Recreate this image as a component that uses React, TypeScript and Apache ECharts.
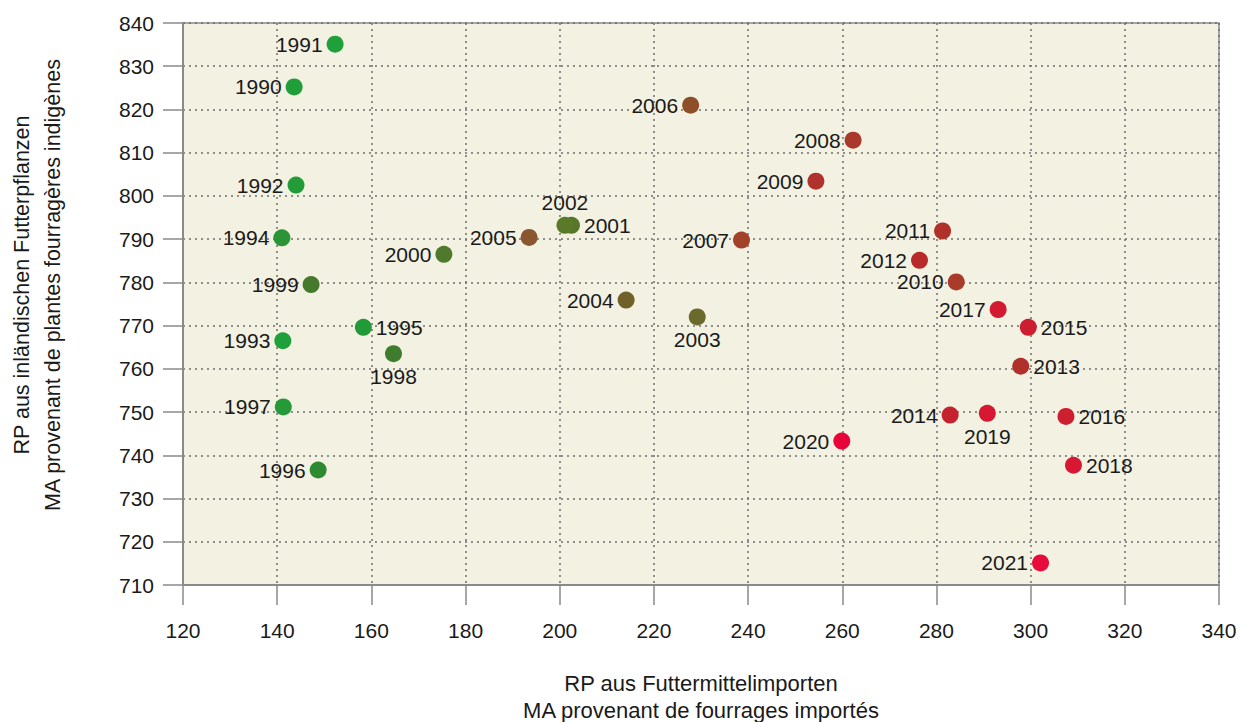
import React, { useEffect, useRef } from "react";
import * as echarts from "echarts";

const years = [
  "1990", "1991", "1992", "1993", "1994", "1995", "1996", "1997", "1998", "1999",
  "2000", "2001", "2002", "2003", "2004", "2005", "2006", "2007", "2008", "2009",
  "2010", "2011", "2012", "2013", "2014", "2015", "2016", "2017", "2018", "2019",
  "2020", "2021",
];
const importedRP = [
  143.6, 152.3, 144.0, 141.2, 141.0, 158.3, 148.7, 141.3, 164.7, 147.2,
  175.4, 202.5, 201.1, 229.2, 214.1, 193.5, 227.8, 238.6, 262.3, 254.4,
  284.2, 281.3, 276.4, 297.9, 282.9, 299.5, 307.5, 293.1, 309.1, 290.8,
  259.9, 302.1,
];
const domesticRP = [
  825.2, 835.1, 802.5, 766.5, 790.3, 769.6, 736.6, 751.2, 763.5, 779.5,
  786.5, 793.2, 793.2, 772.0, 775.9, 790.4, 821.0, 789.8, 812.9, 803.4,
  780.1, 791.9, 785.1, 760.6, 749.3, 769.6, 749.0, 773.7, 737.7, 749.7,
  743.3, 715.1,
];
const pointColors = [
  "#1f9e3a", "#1fa03a", "#239b38", "#1ea03a", "#2a9437", "#229a38", "#2e8a30", "#249a38", "#3f7d2e", "#46792c",
  "#4f7a2c", "#58762a", "#5a7a2a", "#6b6a2c", "#70602a", "#8a5630", "#8e4e28", "#a3422b", "#a8392b", "#b0322d",
  "#aa3a2a", "#b0302a", "#b82a2a", "#b0302a", "#c52230", "#cc1e30", "#cc1f30", "#d21a30", "#d81832", "#d81832",
  "#e8043a", "#e80a3a",
];
const labelPositions = [
  "left", "left", "left", "left", "left", "right", "left", "left", "bottom", "left",
  "left", "right", "top", "bottom", "left", "left", "left", "left", "left", "left",
  "left", "left", "left", "right", "left", "right", "right", "left", "right", "bottom",
  "left", "left",
];
const xTitle = ["RP aus Futtermittelimporten", "MA provenant de fourrages importés"];
const yTitle = ["RP aus inländischen Futterpflanzen", "MA provenant de plantes fourragères indigènes"];

const FONT = "'Liberation Sans', Arial, sans-serif";

export default function App() {
  const ref = useRef<HTMLDivElement>(null);
  useEffect(() => {
    if (!ref.current) return;
    const chart = echarts.init(ref.current, undefined, { renderer: "svg" });
    const data = years.map((y, i) => ({
      value: [importedRP[i], domesticRP[i]],
      name: y,
      itemStyle: { color: pointColors[i], opacity: 1 },
      label: { position: labelPositions[i] },
    }));
    chart.setOption({
      animation: false,
      backgroundColor: "#ffffff",
      grid: {
        left: 183,
        right: 21,
        top: 23,
        bottom: 137,
        show: true,
        backgroundColor: "#f2f1e2",
        borderColor: "#8a8a8a",
        borderWidth: 1.5,
      },
      xAxis: {
        type: "value",
        min: 120,
        max: 340,
        interval: 20,
        axisLine: { show: true, onZero: false, lineStyle: { color: "#8a8a8a", width: 2 } },
        axisTick: { show: true, length: 20, inside: false, lineStyle: { color: "#8a8a8a", width: 1.5 } },
        axisLabel: { color: "#1a1a1a", fontSize: 21, fontFamily: FONT, margin: 35 },
        splitLine: { show: true, lineStyle: { color: "#6e6e6e", width: 1.5, type: [2, 4] } },
      },
      yAxis: {
        type: "value",
        min: 710,
        max: 840,
        interval: 10,
        axisLine: { show: true, onZero: false, lineStyle: { color: "#8a8a8a", width: 2 } },
        axisTick: { show: true, length: 20, inside: false, lineStyle: { color: "#8a8a8a", width: 1.5 } },
        axisLabel: { color: "#1a1a1a", fontSize: 21, fontFamily: FONT, margin: 29 },
        splitLine: { show: true, lineStyle: { color: "#6e6e6e", width: 1.5, type: [2, 4] } },
      },
      graphic: [
        {
          type: "text",
          x: 701,
          y: 683,
          style: { text: xTitle[0], font: `22px ${FONT}`, fill: "#1a1a1a", textAlign: "center", textVerticalAlign: "middle" },
        },
        {
          type: "text",
          x: 701,
          y: 710,
          style: { text: xTitle[1], font: `22px ${FONT}`, fill: "#1a1a1a", textAlign: "center", textVerticalAlign: "middle" },
        },
        {
          type: "text",
          x: 22,
          y: 285,
          rotation: Math.PI / 2,
          style: { text: yTitle[0], font: `21.5px ${FONT}`, fill: "#1a1a1a", textAlign: "center", textVerticalAlign: "middle" },
        },
        {
          type: "text",
          x: 53,
          y: 285,
          rotation: Math.PI / 2,
          style: { text: yTitle[1], font: `21.5px ${FONT}`, fill: "#1a1a1a", textAlign: "center", textVerticalAlign: "middle" },
        },
      ],
      series: [
        {
          type: "scatter",
          symbol: "circle",
          symbolSize: 17,
          itemStyle: { opacity: 1 },
          data,
          label: {
            show: true,
            formatter: (p: any) => p.name,
            color: "#1a1a1a",
            fontSize: 21,
            fontFamily: FONT,
            distance: 4,
          },
        },
      ],
    });
    return () => chart.dispose();
  }, []);
  return <div ref={ref} style={{ width: 1240, height: 722, position: "absolute", left: 0, top: 0 }} />;
}
